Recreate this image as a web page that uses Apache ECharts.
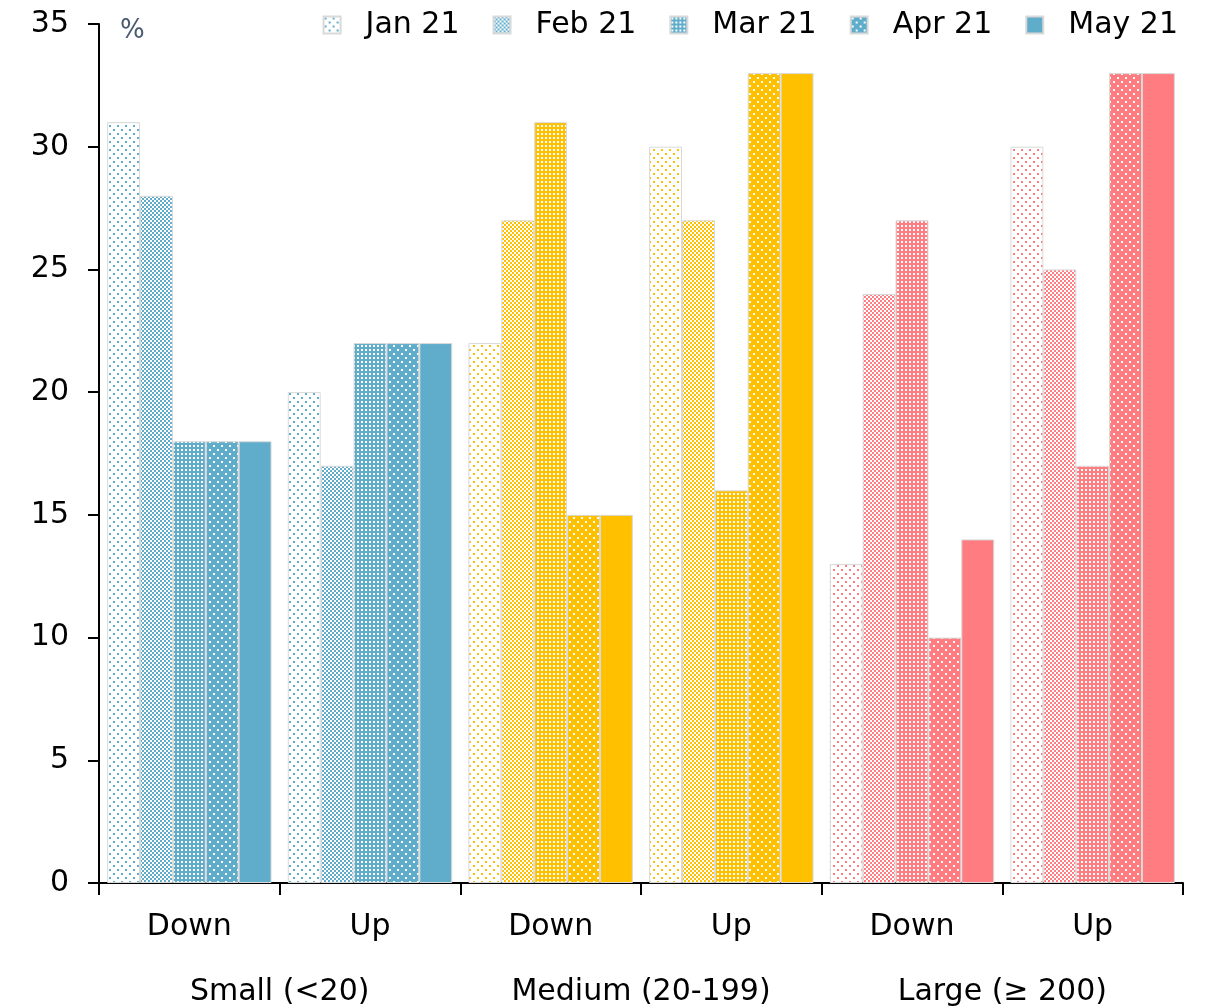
<!DOCTYPE html>
<html>
<head>
<meta charset="utf-8">
<script src="https://cdn.jsdelivr.net/npm/echarts@6/dist/echarts.min.js"></script>
<style>html,body{margin:0;padding:0;background:#fff}#c{width:1205px;height:1008px}</style>
</head>
<body>
<div id="c"></div>
<script>
const categories = ['Down', 'Up', 'Down', 'Up', 'Down', 'Up'];
const groups = ['Small (<20)', 'Medium (20-199)', 'Large (≥ 200)'];
const months = ['Jan 21', 'Feb 21', 'Mar 21', 'Apr 21', 'May 21'];
const jan21 = [31, 20, 22, 30, 13, 30];
const feb21 = [28, 17, 27, 27, 24, 25];
const mar21 = [18, 22, 31, 16, 27, 17];
const apr21 = [18, 22, 15, 33, 10, 33];
const may21 = [18, 22, 15, 33, 14, 33];
const yTicks = [0, 5, 10, 15, 20, 25, 30, 35];

const seriesValues = [jan21, feb21, mar21, apr21, may21];
const groupColors = ['#5FADCB', '#FFC000', '#FF7C80'];

function makePattern(kind, color) {
  const c = document.createElement('canvas');
  const ctx = c.getContext('2d');
  if (kind === 0) { // sparse coloured dots on white
    c.width = 8; c.height = 8;
    ctx.fillStyle = '#fff'; ctx.fillRect(0, 0, 8, 8);
    ctx.fillStyle = color;
    ctx.fillRect(1, 1, 2, 2); ctx.fillRect(5, 5, 2, 2);
  } else if (kind === 1) { // checker
    c.width = 4; c.height = 4;
    ctx.fillStyle = '#fff'; ctx.fillRect(0, 0, 4, 4);
    ctx.fillStyle = color;
    ctx.fillRect(0, 0, 2, 2); ctx.fillRect(2, 2, 2, 2);
  } else if (kind === 2) { // colour with dense white squares
    c.width = 4; c.height = 4;
    ctx.fillStyle = color; ctx.fillRect(0, 0, 4, 4);
    ctx.fillStyle = '#fff';
    ctx.fillRect(1, 1, 2, 2);
  } else if (kind === 3) { // colour with sparse white dots
    c.width = 8; c.height = 8;
    ctx.fillStyle = color; ctx.fillRect(0, 0, 8, 8);
    ctx.fillStyle = '#fff';
    ctx.fillRect(1, 1, 2, 2); ctx.fillRect(5, 5, 2, 2);
  } else {
    return color;
  }
  return { image: c, repeat: 'repeat' };
}

const chart = echarts.init(document.getElementById('c'), null, { renderer: 'canvas' });
const FONT = 'DejaVu Sans';

const series = months.map((m, si) => ({
  name: m,
  type: 'bar',
  barGap: '0%',
  barCategoryGap: '9%',
  itemStyle: { color: makePattern(si, groupColors[0]), borderColor: '#D9D9D9', borderWidth: 1 },
  data: seriesValues[si].map((v, ci) => ({
    value: v,
    itemStyle: { color: makePattern(si, groupColors[Math.floor(ci / 2)]) }
  }))
}));

chart.setOption({
  animation: false,
  backgroundColor: '#fff',
  textStyle: { fontFamily: FONT },
  grid: { left: 99, right: 22, top: 24, bottom: 125 },
  legend: {
    data: months,
    right: 22, top: 5,
    itemWidth: 17, itemHeight: 17, itemGap: 33,
    icon: 'rect',
    textStyle: { fontFamily: FONT, fontSize: 30, color: '#000', padding: [0, 0, 0, 20] }
  },
  xAxis: [{
    type: 'category',
    data: categories,
    position: 'bottom',
    axisLine: { lineStyle: { color: '#000', width: 2 } },
    axisTick: { show: true, length: 12, lineStyle: { color: '#000', width: 2 } },
    axisLabel: { fontFamily: FONT, fontSize: 30, color: '#000', margin: 29 }
  }, {
    type: 'category',
    data: groups,
    position: 'bottom',
    offset: 65,
    axisLine: { show: false },
    axisTick: { show: false },
    axisLabel: { fontFamily: FONT, fontSize: 30, color: '#000', margin: 29 }
  }],
  yAxis: {
    type: 'value',
    min: yTicks[0], max: yTicks[yTicks.length - 1], interval: 5,
    splitLine: { show: false },
    axisLine: { show: true, lineStyle: { color: '#000', width: 2 } },
    axisTick: { show: true, length: 11, lineStyle: { color: '#000', width: 2 } },
    axisLabel: { fontFamily: FONT, fontSize: 30, color: '#000', margin: 30 }
  },
  graphic: [{
    type: 'text', left: 120, top: 18,
    style: { text: '%', font: '26px "DejaVu Sans"', fill: '#4A5A70' }
  }],
  series: series
});
</script>
</body>
</html>
